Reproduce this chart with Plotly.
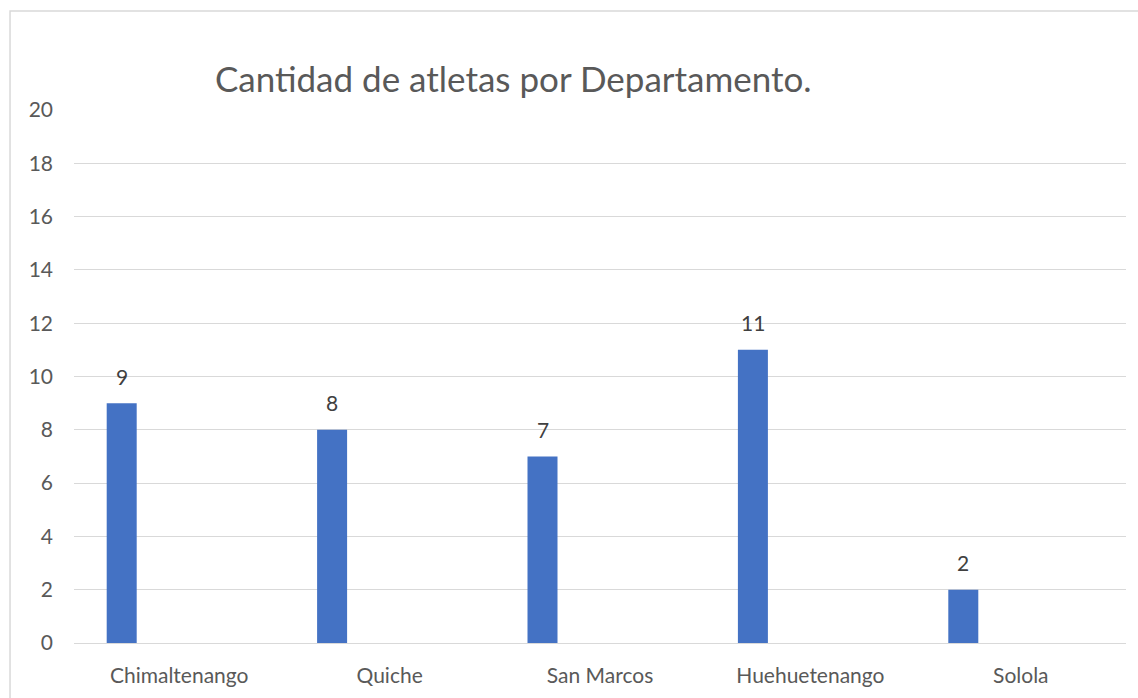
import plotly.graph_objects as go

departamentos = ["Chimaltenango", "Quiche", "San Marcos", "Huehuetenango", "Solola"]
atletas = [9, 8, 7, 11, 2]
y_ticks = [0, 2, 4, 6, 8, 10, 12, 14, 16, 18, 20]

FONT = "Lato, Open Sans, sans-serif"
GRID = "#d9d9d9"
TXT = "#595959"

fig = go.Figure()
fig.add_trace(go.Bar(
    x=departamentos, y=atletas,
    marker=dict(color="#4472c4", line=dict(width=0)),
    width=0.1426, offset=-0.3446,
    hoverinfo="x+y",
))

for d, v in zip(departamentos, atletas):
    fig.add_annotation(x=d, y=v, xref="x", yref="y", text=str(v),
                       showarrow=False, xshift=-57.5, yshift=27,
                       font=dict(family=FONT, size=21, color="#404040"))

fig.add_shape(type="rect", xref="paper", yref="paper",
              x0=-0.0608, x1=1.02, y0=-0.12, y1=1.1857,
              line=dict(color=GRID, width=1.5), fillcolor="rgba(0,0,0,0)", layer="below")

fig.update_layout(
    width=1138, height=698,
    margin=dict(l=74, r=12, t=110, b=55),
    paper_bgcolor="white", plot_bgcolor="white",
    showlegend=False,
    title=dict(text="Cantidad de atletas por Departamento.", x=0.451, xanchor="center",
               y=1 - 80 / 698, yanchor="middle", yref="container",
               font=dict(family=FONT, size=35, color=TXT)),
    xaxis=dict(showgrid=False, showline=False, ticks="", zeroline=False,
               tickfont=dict(family=FONT, size=21, color=TXT), ticklabelstandoff=18,
               range=[-0.5, 4.5]),
    yaxis=dict(range=[0, 20], tickvals=y_ticks, showgrid=True, gridcolor=GRID, gridwidth=1,
               zeroline=True, zerolinecolor=GRID, zerolinewidth=1, showline=False, ticks="",
               tickfont=dict(family=FONT, size=21, color=TXT), ticklabelstandoff=20),
)

fig.write_html("out.html", config={"displayModeBar": False},
               post_script="document.body.style.margin='0';")
